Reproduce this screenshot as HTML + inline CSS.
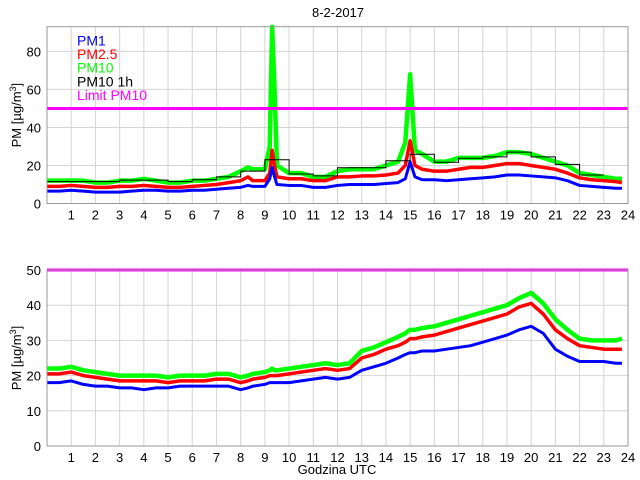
<!DOCTYPE html>
<html><head><meta charset="utf-8"><style>
body{margin:0;background:#fff}
svg{display:block;font-family:"Liberation Sans",sans-serif}
</style></head><body>
<svg id="c" width="640" height="480"></svg>
<script>
const hours=[0,0.5,1,1.5,2,2.5,3,3.5,4,4.5,5,5.5,6,6.5,7,7.5,8,8.3,8.5,9,9.2,9.3,9.4,9.5,10,10.5,11,11.5,12,12.5,13,13.5,14,14.5,14.8,15,15.2,15.5,16,16.5,17,17.5,18,18.5,19,19.5,20,20.5,21,21.5,22,22.5,23,23.5,23.75];
const pm10Top=[12,12,12,12,11,11,12,12,13,12,11,11,12,12,13,14,17,19,18,18,30,93,60,20,16,16,14,14,17,18,18,18,20,22,32,68,28,26,22,22,24,24,24,25,27,27,26,24,22,20,16,15,14,13,13];
const pm25Top=[9,9,9.5,9,8.5,8.5,9,9,9.5,9,8.5,8.5,9,9.5,10,11,12,14,12,12,16,28,20,14,13,13,12,12,14,14,14.5,14.5,15,16,20,33,20,18,17,17,18,19,19,20,21,21,20,19,18,16,13.5,12.5,12,11.5,11];
const pm1Top=[6.5,6.5,7,6.5,6,6,6,6.5,7,7,6.5,6.5,7,7,7.5,8,8.5,9.5,9,9,13,19,14,10,9.5,9.5,8.5,8.5,9.5,10,10,10,10.5,11,13,22,14,12.5,12.5,12,12.5,13,13.5,14,15,15,14.5,14,13.5,12,9.5,9,8.5,8,8];
const hourly=[11.5,11.5,11.5,12.3,12.3,11.5,12.5,14,17,23,15.5,14.5,18.8,18.8,22.5,25.9,21.7,23.8,24.5,27,24.5,20.6,15];
const pm10Bot=[22,22,22.5,21.5,21,20.5,20,20,20,20,19.5,20,20,20,20.5,20.5,19.5,20,20.5,21,21.5,22,21.5,21.5,22,22.5,23,23.5,23,23.5,27,28,29.5,31,32,33,33,33.5,34,35,36,37,38,39,40,42,43.5,40.5,36,33,30.5,30,30,30,30.5];
const pm25Bot=[20.5,20.5,21,20,19.5,19,18.5,18.5,18.5,18.5,18,18.5,18.5,18.5,19,19,18,18.5,19,19.5,20,20,20,20,20.5,21,21.5,22,21.5,22,25,26,27.5,28.5,29.5,30.5,30.5,31,31.5,32.5,33.5,34.5,35.5,36.5,37.5,39.5,40.5,37.5,33,30.5,28.5,28,27.5,27.5,27.5];
const pm1Bot=[18,18,18.5,17.5,17,17,16.5,16.5,16,16.5,16.5,17,17,17,17,17,16,16.5,17,17.5,18,18,18,18,18,18.5,19,19.5,19,19.5,21.5,22.5,23.5,25,26,26.5,26.5,27,27,27.5,28,28.5,29.5,30.5,31.5,33,34,32,27.5,25.5,24,24,24,23.5,23.5];
const topTicks=[0,20,40,60,80];
const botTicks=[0,10,20,30,40,50];
const legendLabels=["PM1","PM2.5","PM10","PM10 1h","Limit PM10"];
const limit=50;

const NS="http://www.w3.org/2000/svg";
const svg=document.getElementById('c');
function mk(tag,attrs,parent){const e=document.createElementNS(NS,tag);for(const k in attrs)e.setAttribute(k,attrs[k]);(parent||svg).appendChild(e);return e;}
const X0=47,X1=628;
const xs=h=>X0+(X1-X0)*h/24;

function panel(name,yTop,yBot,ymax,ticks,series,step){
  const g=mk('g',{});
  
  
  const ys=v=>yBot-(yBot-yTop)*v/ymax;
  for(let h=1;h<24;h++){const l=mk('line',{x1:xs(h),x2:xs(h),y1:yTop,y2:yBot,stroke:'#d4d4d4','stroke-width':1},g);
    }
  ticks.forEach(t=>{if(t>0&&t<ymax){const l=mk('line',{x1:X0,x2:X1,y1:ys(t),y2:ys(t),stroke:'#d4d4d4','stroke-width':1},g);
    }
    const tx=mk('text',{x:X0-6,y:ys(t)+5,'text-anchor':'end','font-size':13},g);tx.textContent=t;
    });
  for(let h=1;h<=24;h++){const tx=mk('text',{x:xs(h),y:yBot+16,'text-anchor':'middle','font-size':13},g);tx.textContent=h;
    }
  const cols=['#00ff00','#ff0000','#0000ff'];const widths=[4.5,3.5,3];const nm=['pm10-line','pm25-line','pm1-line'];
  series.forEach((s,i)=>{const p=mk('polyline',{points:s.map((v,j)=>xs(hours[j])+','+ys(Math.min(v,ymax))).join(' '),fill:'none',stroke:cols[i],'stroke-width':widths[i],'stroke-linejoin':'round'},g);
    });
  if(step){let pts=[];step.forEach((v,i)=>{pts.push(xs(i)+','+ys(v));pts.push(xs(i+1)+','+ys(v));});
    const p=mk('polyline',{points:pts.join(' '),fill:'none',stroke:'#000','stroke-width':1},g);
    }
  const lim=mk('line',{x1:X0,x2:X1,y1:ys(limit),y2:ys(limit),stroke:'#ff00ff','stroke-width':3},g);
  
  const fr=mk('rect',{x:X0,y:yTop,width:X1-X0,height:yBot-yTop,fill:'none',stroke:'#999','stroke-width':1},g);
  
  const yt=mk('text',{transform:`translate(21,${(yTop+yBot)/2}) rotate(-90)`,'text-anchor':'middle','font-size':13},g);
  yt.innerHTML='PM [µg/m<tspan dy="-5" font-size="9">3</tspan><tspan dy="5">]</tspan>';
  
}
panel('top-panel',26.7,203.5,93,topTicks,[pm10Top,pm25Top,pm1Top],hourly);
panel('bottom-panel',270,446,50,botTicks,[pm10Bot,pm25Bot,pm1Bot],null);

const title=mk('text',{x:338,y:17,'text-anchor':'middle','font-size':13});title.textContent='8-2-2017';

const xt=mk('text',{x:337,y:474,'text-anchor':'middle','font-size':13});xt.textContent='Godzina UTC';

const lc=['#0000ff','#ff0000','#00ff00','#000000','#ff00ff'];
legendLabels.forEach((t,i)=>{const e=mk('text',{x:77,y:45.5+i*13.6,'font-size':14,fill:lc[i]});e.textContent=t;
  });
</script>
</body></html>
